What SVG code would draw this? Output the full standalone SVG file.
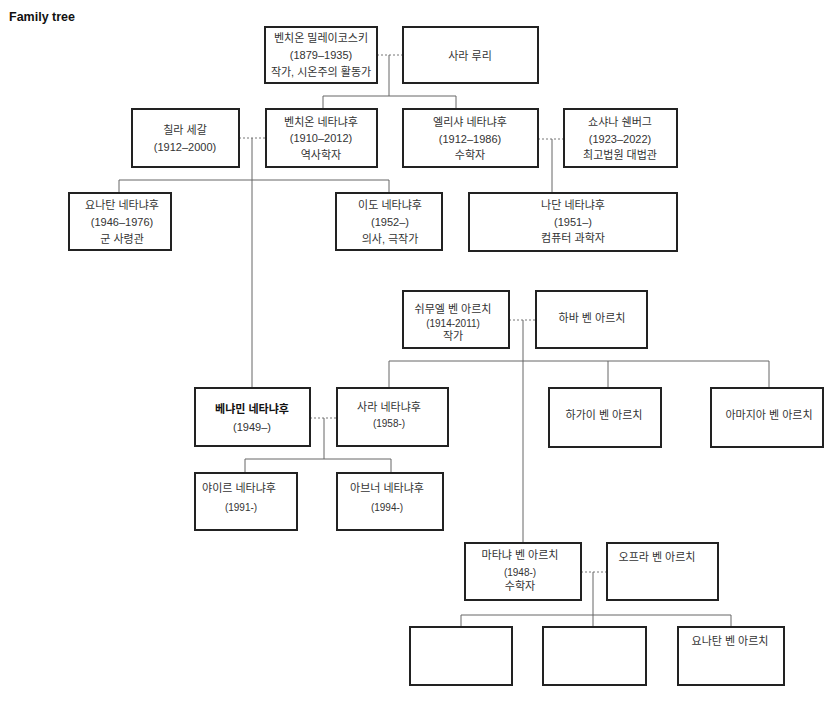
<svg xmlns="http://www.w3.org/2000/svg" width="835" height="705" viewBox="0 0 835 705">
<style>
.b{fill:#fff;stroke:#222;stroke-width:2}
text{font-family:"Liberation Sans","Noto Sans CJK KR",sans-serif;font-size:11px;fill:#333;text-anchor:middle}
.s{font-size:10px}
.bold{font-weight:bold;fill:#111}
.l{fill:none;stroke:#666;stroke-width:1}
.d{fill:none;stroke:#777;stroke-width:1;stroke-dasharray:2,2}
</style>
<rect width="835" height="705" fill="#fff"/>
<text x="9" y="21" style="text-anchor:start;font-weight:bold;font-size:12.5px;fill:#111">Family tree</text>
<g id="connectors">
<path class="d" d="M377 55H403M239 138H266M538 139H564M509 320H536M310 418H337M581 572H607"/>
<path class="l" d="M389 55V96M323 96H456M323 96V109M456 96V109"/>
<path class="l" d="M252 138V388M119 180H389M119 180V193M389 180V193"/>
<path class="l" d="M552 139V193"/>
<path class="l" d="M523 320V543M389 361H769M389 361V388M608 361V388M769 361V388"/>
<path class="l" d="M324 418V459M245 459H391M245 459V473M391 459V473"/>
<path class="l" d="M593 572V627M461 615H731M461 615V627M731 615V627"/>
</g>
<g id="n1"><rect class="b" x="265" y="27" width="112" height="56"/><text x="321" y="42">벤치온 밀레이코스키</text><text x="321" y="59">(1879–1935)</text><text x="321" y="76">작가, 시온주의 활동가</text></g>
<g id="n2"><rect class="b" x="403" y="27" width="135" height="56"/><text x="470" y="60">사라 루리</text></g>
<g id="n3"><rect class="b" x="132" y="109" width="107" height="58"/><text x="185" y="134">칠라 세갈</text><text x="185" y="151">(1912–2000)</text></g>
<g id="n4"><rect class="b" x="266" y="109" width="111" height="58"/><text x="321" y="126">벤치온 네타냐후</text><text x="321" y="142">(1910–2012)</text><text x="321" y="159">역사학자</text></g>
<g id="n5"><rect class="b" x="403" y="109" width="135" height="58"/><text x="470" y="126">엘리샤 네타냐후</text><text x="470" y="143">(1912–1986)</text><text x="470" y="159">수학자</text></g>
<g id="n6"><rect class="b" x="564" y="109" width="113" height="58"/><text x="620" y="126">쇼샤나 쉔버그</text><text x="620" y="143">(1923–2022)</text><text x="620" y="159">최고법원 대법관</text></g>
<g id="n7"><rect class="b" x="69" y="193" width="102" height="57"/><text x="122" y="209">요나탄 네타냐후</text><text x="122" y="226">(1946–1976)</text><text x="122" y="243">군 사령관</text></g>
<g id="n8"><rect class="b" x="336" y="193" width="106" height="57"/><text x="390" y="209">이도 네타냐후</text><text x="390" y="226">(1952–)</text><text x="390" y="243">의사, 극작가</text></g>
<g id="n9"><rect class="b" x="469" y="193" width="208" height="58"/><text x="573" y="209">나단 네타냐후</text><text x="573" y="226">(1951–)</text><text x="573" y="242">컴퓨터 과학자</text></g>
<g id="n10"><rect class="b" x="403" y="291" width="106" height="57"/><text x="453" y="313">쉬무엘 벤 아르치</text><text class="s" x="453" y="327">(1914-2011)</text><text x="453" y="340">작가</text></g>
<g id="n11"><rect class="b" x="536" y="291" width="111" height="57"/><text x="592" y="322">하바 벤 아르치</text></g>
<g id="n12"><rect class="b" x="195" y="388" width="115" height="58"/><text class="bold" x="252" y="413">베냐민 네타냐후</text><text x="252" y="431">(1949–)</text></g>
<g id="n13"><rect class="b" x="337" y="388" width="111" height="58"/><text x="389" y="411">사라 네타냐후</text><text class="s" x="389" y="427">(1958-)</text></g>
<g id="n14"><rect class="b" x="549" y="388" width="112" height="59"/><text x="604" y="419">하가이 벤 아르치</text></g>
<g id="n15"><rect class="b" x="711" y="388" width="112" height="59"/><text x="769" y="419">아마지아 벤 아르치</text></g>
<g id="n16"><rect class="b" x="195" y="473" width="102" height="57"/><text x="239" y="492">야이르 네타냐후</text><text class="s" x="241" y="511">(1991-)</text></g>
<g id="n17"><rect class="b" x="337" y="473" width="106" height="57"/><text x="387" y="492">아브너 네타냐후</text><text class="s" x="387" y="511">(1994-)</text></g>
<g id="n18"><rect class="b" x="465" y="543" width="116" height="57"/><text x="520" y="559">마타냐 벤 아르치</text><text class="s" x="520" y="576">(1948-)</text><text x="520" y="590">수학자</text></g>
<g id="n19"><rect class="b" x="607" y="543" width="111" height="57"/><text x="657" y="561">오프라 벤 아르치</text></g>
<g id="n20"><rect class="b" x="410" y="627" width="102" height="58"/></g>
<g id="n21"><rect class="b" x="543" y="627" width="103" height="58"/></g>
<g id="n22"><rect class="b" x="678" y="627" width="106" height="58"/><text x="730" y="645">요나탄 벤 아르치</text></g>
</svg>
